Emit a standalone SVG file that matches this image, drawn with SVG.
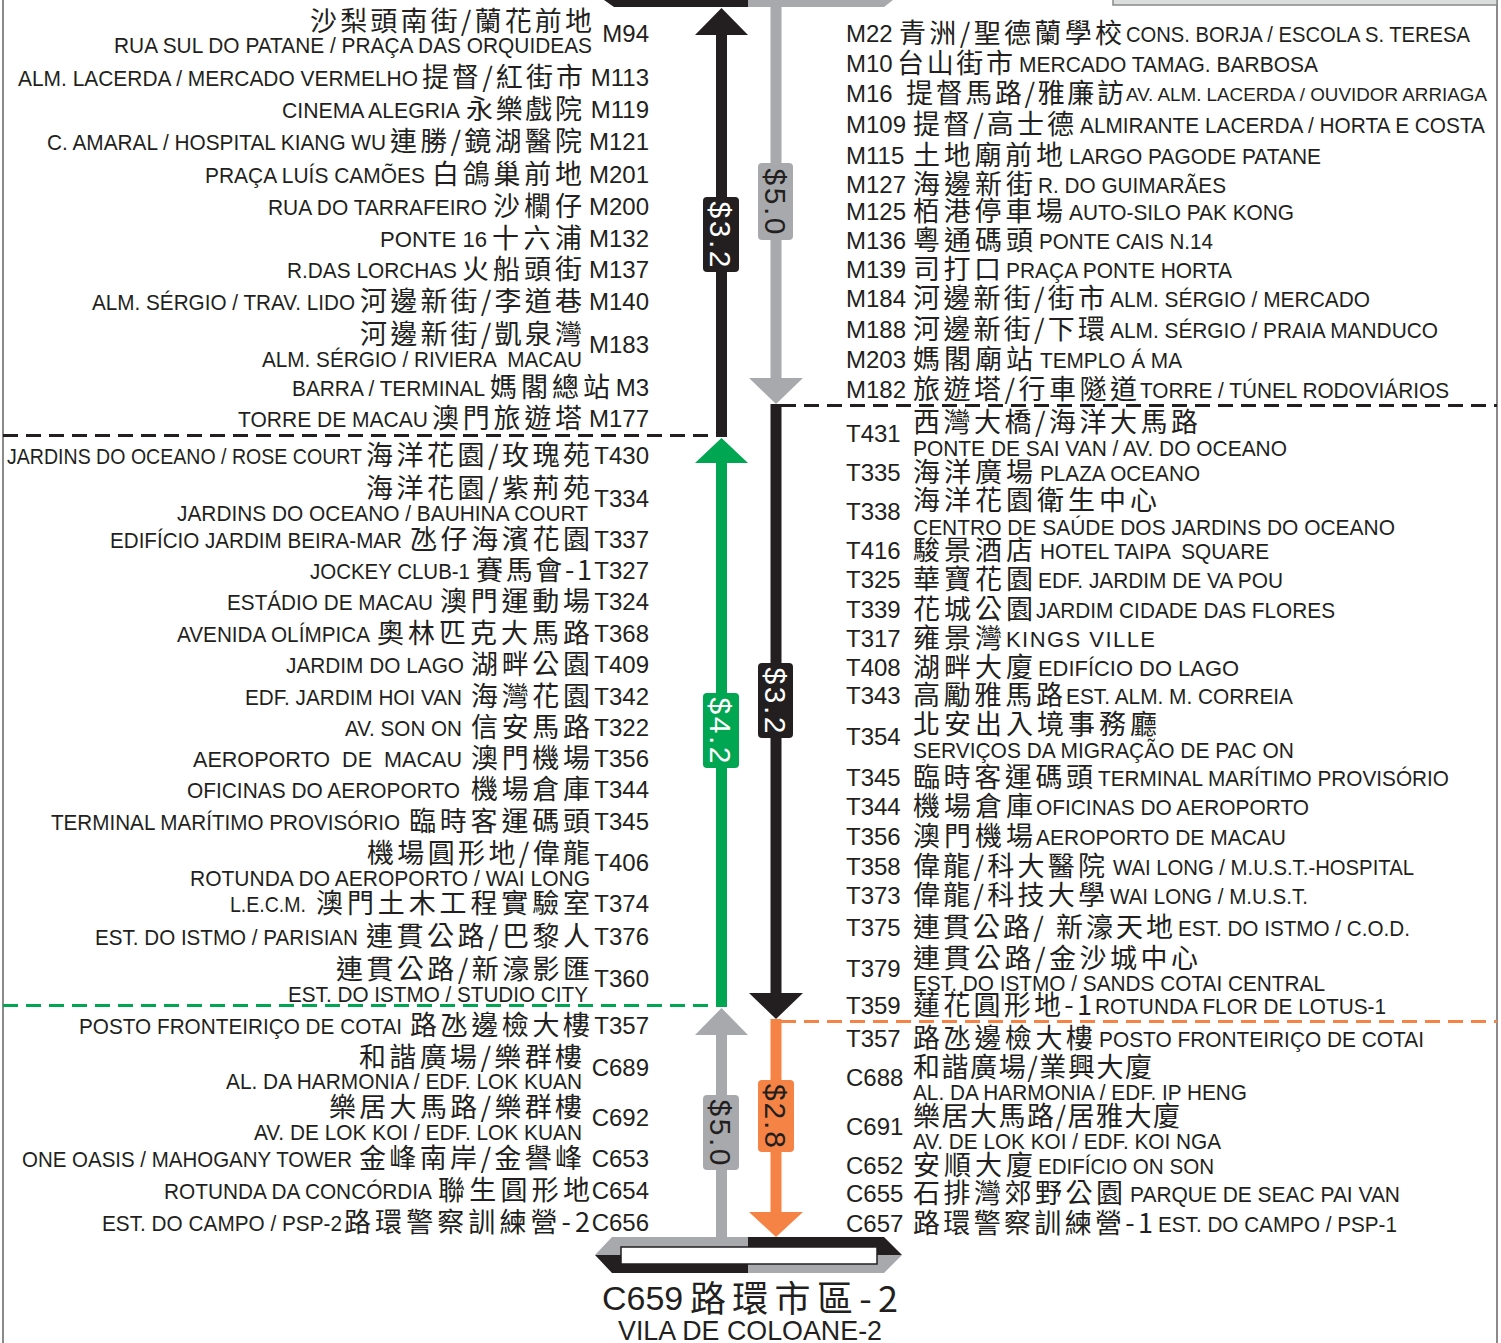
<svg xmlns="http://www.w3.org/2000/svg" width="1501" height="1343" viewBox="0 0 1501 1343">
<style>
.l{font-family:"Liberation Sans",Arial,sans-serif;font-size:22px;fill:#231f20}
.s{font-family:"Liberation Sans",Arial,sans-serif;font-size:19px;fill:#231f20}
.c{font-family:"Noto Sans CJK TC","Noto Sans CJK SC",sans-serif;font-size:27px;fill:#231f20}
.k{font-family:"Liberation Sans",Arial,sans-serif;font-size:24px;fill:#231f20}
.f{font-family:"Liberation Sans",Arial,sans-serif;font-size:30px}
.p{white-space:pre}
.dash{stroke-width:3;stroke-dasharray:15 8;fill:none}
</style>
<rect width="1501" height="1343" fill="#ffffff"/>
<g id="frame">
<line x1="3" y1="0" x2="3" y2="1343" stroke="#8a8a8a" stroke-width="2"/>
<line x1="1497" y1="0" x2="1497" y2="1343" stroke="#8a8a8a" stroke-width="2"/>
<rect x="1113" y="-2" width="384" height="7" fill="#dcdddd" stroke="#8a8a8a" stroke-width="1.5"/>
</g>
<g id="terminal-top">
<polygon points="604,0 614,7 748,7 748,0" fill="#231f20"/>
<polygon points="748,0 748,7 884,7 893,0" fill="#a7a9ac"/>
</g>
<g id="terminal-bottom">
<polygon points="595,1255 612,1237 748,1237 748,1255" fill="#a7a9ac"/>
<polygon points="748,1237 884,1237 902,1255 748,1255" fill="#231f20"/>
<polygon points="595,1255 748,1255 748,1273 612,1273" fill="#231f20"/>
<polygon points="748,1255 902,1255 884,1273 748,1273" fill="#a7a9ac"/>
<rect x="621" y="1247" width="256" height="17" fill="#ffffff" stroke="#231f20" stroke-width="1.5"/>
<text class="k" x="602" y="1310" style="font-size:34px">C659</text>
<text class="c" x="690" y="1312" textLength="208" style="font-size:36px">路環市區-2</text>
<text class="l" x="618" y="1340" textLength="264" lengthAdjust="spacingAndGlyphs" style="font-size:28px">VILA DE COLOANE-2</text>
</g>
<g id="connectors">
<rect x="716" y="33" width="11" height="404" fill="#231f20"/>
<polygon points="721.5,8 695,35 748,35" fill="#231f20"/>
<rect x="716" y="462" width="11" height="545" fill="#00a651"/>
<polygon points="721.5,438 695,463 748,463" fill="#00a651"/>
<rect x="716" y="1034" width="11" height="206" fill="#a7a9ac"/>
<polygon points="721.5,1008 695,1035 748,1035" fill="#a7a9ac"/>
<rect x="770.5" y="5" width="11" height="375" fill="#a7a9ac"/>
<polygon points="749,378 803,378 776,404" fill="#a7a9ac"/>
<rect x="770.5" y="404" width="11" height="590" fill="#231f20"/>
<polygon points="749,993 803,993 776,1019" fill="#231f20"/>
<rect x="770.5" y="1019" width="11" height="195" fill="#f58345"/>
<polygon points="749,1212 803,1212 776,1237" fill="#f58345"/>
<line class="dash" x1="3" y1="435.5" x2="716" y2="435.5" stroke="#231f20"/>
<line class="dash" x1="781" y1="405.5" x2="1497" y2="405.5" stroke="#231f20"/>
<line class="dash" x1="3" y1="1005.5" x2="716" y2="1005.5" stroke="#00a651"/>
<line class="dash" x1="781" y1="1021.5" x2="1497" y2="1021.5" stroke="#f58345"/>
</g>
<g id="fares">
<rect x="758" y="163" width="35" height="77" rx="4" fill="#a7a9ac"/>
<text class="f" transform="translate(775.5,201.5) rotate(90)" text-anchor="middle" dy="0.36em" fill="#231f20" textLength="66">$5.0</text>
<rect x="703" y="197" width="36" height="75" rx="4" fill="#231f20"/>
<text class="f" transform="translate(721,234.5) rotate(90)" text-anchor="middle" dy="0.36em" fill="#ffffff" textLength="66">$3.2</text>
<rect x="758" y="663" width="35" height="75" rx="4" fill="#231f20"/>
<text class="f" transform="translate(775.5,700.5) rotate(90)" text-anchor="middle" dy="0.36em" fill="#ffffff" textLength="66">$3.2</text>
<rect x="703" y="693" width="36" height="75" rx="4" fill="#00a651"/>
<text class="f" transform="translate(721,730.5) rotate(90)" text-anchor="middle" dy="0.36em" fill="#ffffff" textLength="66">$4.2</text>
<rect x="703" y="1095" width="36" height="75" rx="4" fill="#a7a9ac"/>
<text class="f" transform="translate(721,1132.5) rotate(90)" text-anchor="middle" dy="0.36em" fill="#231f20" textLength="66">$5.0</text>
<rect x="758" y="1080" width="36" height="72" rx="4" fill="#f58345"/>
<text class="f" transform="translate(776,1116) rotate(90)" text-anchor="middle" dy="0.36em" fill="#231f20" textLength="64">$2.8</text>
</g>
<g id="left-stops">
<g id="l-m94"><text class="c" x="310" y="31" textLength="282">沙梨頭南街/蘭花前地</text><text class="l" x="114" y="53" textLength="478" lengthAdjust="spacingAndGlyphs">RUA SUL DO PATANE / PRAÇA DAS ORQUIDEAS</text><text class="k" x="649" y="42" text-anchor="end">M94</text></g>
<g id="l-m113"><text class="l" x="18" y="86" textLength="400" lengthAdjust="spacingAndGlyphs">ALM. LACERDA / MERCADO VERMELHO</text><text class="c" x="422" y="87" textLength="161">提督/紅街市</text><text class="k" x="649" y="86" text-anchor="end">M113</text></g>
<g id="l-m119"><text class="l" x="282" y="118" textLength="178" lengthAdjust="spacingAndGlyphs">CINEMA ALEGRIA</text><text class="c" x="466" y="119" textLength="116">永樂戲院</text><text class="k" x="649" y="118" text-anchor="end">M119</text></g>
<g id="l-m121"><text class="l" x="47" y="150" textLength="339" lengthAdjust="spacingAndGlyphs">C. AMARAL / HOSPITAL KIANG WU</text><text class="c" x="390" y="151" textLength="192">連勝/鏡湖醫院</text><text class="k" x="649" y="150" text-anchor="end">M121</text></g>
<g id="l-m201"><text class="l" x="205" y="183" textLength="220" lengthAdjust="spacingAndGlyphs">PRAÇA LUÍS CAMÕES</text><text class="c" x="432" y="184" textLength="150">白鴿巢前地</text><text class="k" x="649" y="183" text-anchor="end">M201</text></g>
<g id="l-m200"><text class="l" x="268" y="215" textLength="219" lengthAdjust="spacingAndGlyphs">RUA DO TARRAFEIRO</text><text class="c" x="493" y="216" textLength="89">沙欄仔</text><text class="k" x="649" y="215" text-anchor="end">M200</text></g>
<g id="l-m132"><text class="l" x="380" y="247" textLength="107" lengthAdjust="spacingAndGlyphs">PONTE 16</text><text class="c" x="492" y="248" textLength="90">十六浦</text><text class="k" x="649" y="247" text-anchor="end">M132</text></g>
<g id="l-m137"><text class="l" x="287" y="278" textLength="170" lengthAdjust="spacingAndGlyphs">R.DAS LORCHAS</text><text class="c" x="462" y="279" textLength="120">火船頭街</text><text class="k" x="649" y="278" text-anchor="end">M137</text></g>
<g id="l-m140"><text class="l" x="92" y="310" textLength="263" lengthAdjust="spacingAndGlyphs">ALM. SÉRGIO / TRAV. LIDO</text><text class="c" x="360" y="311" textLength="222">河邊新街/李道巷</text><text class="k" x="649" y="310" text-anchor="end">M140</text></g>
<g id="l-m183"><text class="c" x="360" y="344" textLength="222">河邊新街/凱泉灣</text><text class="l p" x="262" y="367" textLength="320" lengthAdjust="spacingAndGlyphs">ALM. SÉRGIO / RIVIERA  MACAU</text><text class="k" x="649" y="353" text-anchor="end">M183</text></g>
<g id="l-m3"><text class="l" x="292" y="396" textLength="193" lengthAdjust="spacingAndGlyphs">BARRA / TERMINAL</text><text class="c" x="490" y="397" textLength="120">媽閣總站</text><text class="k" x="649" y="396" text-anchor="end">M3</text></g>
<g id="l-m177"><text class="l" x="238" y="427" textLength="190" lengthAdjust="spacingAndGlyphs">TORRE DE MACAU</text><text class="c" x="432" y="428" textLength="150">澳門旅遊塔</text><text class="k" x="649" y="427" text-anchor="end">M177</text></g>
<g id="l-t430"><text class="l" x="7" y="464" textLength="355" lengthAdjust="spacingAndGlyphs">JARDINS DO OCEANO / ROSE COURT</text><text class="c" x="366" y="465" textLength="224">海洋花園/玫瑰苑</text><text class="k" x="649" y="464" text-anchor="end">T430</text></g>
<g id="l-t334"><text class="c" x="366" y="498" textLength="224">海洋花園/紫荊苑</text><text class="l" x="177" y="521" textLength="411" lengthAdjust="spacingAndGlyphs">JARDINS DO OCEANO / BAUHINA COURT</text><text class="k" x="649" y="507" text-anchor="end">T334</text></g>
<g id="l-t337"><text class="l" x="110" y="548" textLength="292" lengthAdjust="spacingAndGlyphs">EDIFÍCIO JARDIM BEIRA-MAR</text><text class="c" x="410" y="549" textLength="180">氹仔海濱花園</text><text class="k" x="649" y="548" text-anchor="end">T337</text></g>
<g id="l-t327"><text class="l" x="310" y="579" textLength="160" lengthAdjust="spacingAndGlyphs">JOCKEY CLUB-1</text><text class="c" x="476" y="580" textLength="116">賽馬會-1</text><text class="k" x="649" y="579" text-anchor="end">T327</text></g>
<g id="l-t324"><text class="l" x="227" y="610" textLength="206" lengthAdjust="spacingAndGlyphs">ESTÁDIO DE MACAU</text><text class="c" x="440" y="611" textLength="150">澳門運動場</text><text class="k" x="649" y="610" text-anchor="end">T324</text></g>
<g id="l-t368"><text class="l" x="177" y="642" textLength="193" lengthAdjust="spacingAndGlyphs">AVENIDA OLÍMPICA</text><text class="c" x="377" y="643" textLength="213">奧林匹克大馬路</text><text class="k" x="649" y="642" text-anchor="end">T368</text></g>
<g id="l-t409"><text class="l" x="286" y="673" textLength="178" lengthAdjust="spacingAndGlyphs">JARDIM DO LAGO</text><text class="c" x="471" y="674" textLength="119">湖畔公園</text><text class="k" x="649" y="673" text-anchor="end">T409</text></g>
<g id="l-t342"><text class="l" x="245" y="705" textLength="217" lengthAdjust="spacingAndGlyphs">EDF. JARDIM HOI VAN</text><text class="c" x="471" y="706" textLength="119">海灣花園</text><text class="k" x="649" y="705" text-anchor="end">T342</text></g>
<g id="l-t322"><text class="l" x="345" y="736" textLength="117" lengthAdjust="spacingAndGlyphs">AV. SON ON</text><text class="c" x="471" y="737" textLength="119">信安馬路</text><text class="k" x="649" y="736" text-anchor="end">T322</text></g>
<g id="l-t356"><text class="l p" x="193" y="767" textLength="269" lengthAdjust="spacingAndGlyphs">AEROPORTO  DE  MACAU</text><text class="c" x="471" y="768" textLength="119">澳門機場</text><text class="k" x="649" y="767" text-anchor="end">T356</text></g>
<g id="l-t344"><text class="l" x="187" y="798" textLength="273" lengthAdjust="spacingAndGlyphs">OFICINAS DO AEROPORTO</text><text class="c" x="471" y="799" textLength="119">機場倉庫</text><text class="k" x="649" y="798" text-anchor="end">T344</text></g>
<g id="l-t345"><text class="l" x="51" y="830" textLength="349" lengthAdjust="spacingAndGlyphs">TERMINAL MARÍTIMO PROVISÓRIO</text><text class="c" x="409" y="831" textLength="181">臨時客運碼頭</text><text class="k" x="649" y="830" text-anchor="end">T345</text></g>
<g id="l-t406"><text class="c" x="367" y="863" textLength="223">機場圓形地/偉龍</text><text class="l" x="190" y="886" textLength="400" lengthAdjust="spacingAndGlyphs">ROTUNDA DO AEROPORTO / WAI LONG</text><text class="k" x="649" y="871" text-anchor="end">T406</text></g>
<g id="l-t374"><text class="l" x="230" y="912" textLength="76" lengthAdjust="spacingAndGlyphs">L.E.C.M.</text><text class="c" x="316" y="913" textLength="274">澳門土木工程實驗室</text><text class="k" x="649" y="912" text-anchor="end">T374</text></g>
<g id="l-t376"><text class="l" x="95" y="945" textLength="263" lengthAdjust="spacingAndGlyphs">EST. DO ISTMO / PARISIAN</text><text class="c" x="366" y="946" textLength="224">連貫公路/巴黎人</text><text class="k" x="649" y="945" text-anchor="end">T376</text></g>
<g id="l-t360"><text class="c" x="336" y="979" textLength="254">連貫公路/新濠影匯</text><text class="l" x="288" y="1002" textLength="300" lengthAdjust="spacingAndGlyphs">EST. DO ISTMO / STUDIO CITY</text><text class="k" x="649" y="987" text-anchor="end">T360</text></g>
<g id="l-t357"><text class="l" x="79" y="1034" textLength="323" lengthAdjust="spacingAndGlyphs">POSTO FRONTEIRIÇO DE COTAI</text><text class="c" x="410" y="1035" textLength="180">路氹邊檢大樓</text><text class="k" x="649" y="1034" text-anchor="end">T357</text></g>
<g id="l-c689"><text class="c" x="359" y="1067" textLength="223">和諧廣場/樂群樓</text><text class="l" x="226" y="1089" textLength="356" lengthAdjust="spacingAndGlyphs">AL. DA HARMONIA / EDF. LOK KUAN</text><text class="k" x="649" y="1076" text-anchor="end">C689</text></g>
<g id="l-c692"><text class="c" x="329" y="1117" textLength="253">樂居大馬路/樂群樓</text><text class="l" x="254" y="1140" textLength="328" lengthAdjust="spacingAndGlyphs">AV. DE LOK KOI / EDF. LOK KUAN</text><text class="k" x="649" y="1126" text-anchor="end">C692</text></g>
<g id="l-c653"><text class="l" x="22" y="1167" textLength="330" lengthAdjust="spacingAndGlyphs">ONE OASIS / MAHOGANY TOWER</text><text class="c" x="359" y="1168" textLength="223">金峰南岸/金譽峰</text><text class="k" x="649" y="1167" text-anchor="end">C653</text></g>
<g id="l-c654"><text class="l" x="164" y="1199" textLength="268" lengthAdjust="spacingAndGlyphs">ROTUNDA DA CONCÓRDIA</text><text class="c" x="438" y="1200" textLength="152">聯生圓形地</text><text class="k" x="649" y="1199" text-anchor="end">C654</text></g>
<g id="l-c656"><text class="l" x="102" y="1231" textLength="240" lengthAdjust="spacingAndGlyphs">EST. DO CAMPO / PSP-2</text><text class="c" x="344" y="1232" textLength="246">路環警察訓練營-2</text><text class="k" x="649" y="1231" text-anchor="end">C656</text></g>
</g>
<g id="right-stops">
<g id="r-m22"><text class="k" x="846" y="42">M22</text><text class="c" x="899" y="43" textLength="223">青洲/聖德蘭學校</text><text class="l" x="1126" y="42" textLength="344" lengthAdjust="spacingAndGlyphs">CONS. BORJA / ESCOLA S. TERESA</text></g>
<g id="r-m10"><text class="k" x="846" y="72">M10</text><text class="c" x="897" y="73" textLength="116">台山街市</text><text class="l" x="1019" y="72" textLength="299" lengthAdjust="spacingAndGlyphs">MERCADO TAMAG. BARBOSA</text></g>
<g id="r-m16"><text class="k" x="846" y="102">M16</text><text class="c" x="906" y="103" textLength="218">提督馬路/雅廉訪</text><text class="s" x="1126" y="101" textLength="361" lengthAdjust="spacingAndGlyphs">AV. ALM. LACERDA / OUVIDOR ARRIAGA</text></g>
<g id="r-m109"><text class="k" x="846" y="133">M109</text><text class="c" x="913" y="134" textLength="161">提督/高士德</text><text class="l" x="1080" y="133" textLength="405" lengthAdjust="spacingAndGlyphs">ALMIRANTE LACERDA / HORTA E COSTA</text></g>
<g id="r-m115"><text class="k" x="846" y="164">M115</text><text class="c" x="913" y="165" textLength="150">土地廟前地</text><text class="l" x="1069" y="164" textLength="252" lengthAdjust="spacingAndGlyphs">LARGO PAGODE PATANE</text></g>
<g id="r-m127"><text class="k" x="846" y="193">M127</text><text class="c" x="913" y="194" textLength="120">海邊新街</text><text class="l" x="1038" y="193" textLength="188" lengthAdjust="spacingAndGlyphs">R. DO GUIMARÃES</text></g>
<g id="r-m125"><text class="k" x="846" y="220">M125</text><text class="c" x="913" y="221" textLength="150">栢港停車場</text><text class="l" x="1069" y="220" textLength="225" lengthAdjust="spacingAndGlyphs">AUTO-SILO PAK KONG</text></g>
<g id="r-m136"><text class="k" x="846" y="249">M136</text><text class="c" x="913" y="250" textLength="120">粵通碼頭</text><text class="l" x="1039" y="249" textLength="174" lengthAdjust="spacingAndGlyphs">PONTE CAIS N.14</text></g>
<g id="r-m139"><text class="k" x="846" y="278">M139</text><text class="c" x="913" y="279" textLength="88">司打口</text><text class="l" x="1006" y="278" textLength="226" lengthAdjust="spacingAndGlyphs">PRAÇA PONTE HORTA</text></g>
<g id="r-m184"><text class="k" x="846" y="307">M184</text><text class="c" x="913" y="308" textLength="192">河邊新街/街市</text><text class="l" x="1110" y="307" textLength="260" lengthAdjust="spacingAndGlyphs">ALM. SÉRGIO / MERCADO</text></g>
<g id="r-m188"><text class="k" x="846" y="338">M188</text><text class="c" x="913" y="339" textLength="192">河邊新街/下環</text><text class="l" x="1110" y="338" textLength="328" lengthAdjust="spacingAndGlyphs">ALM. SÉRGIO / PRAIA MANDUCO</text></g>
<g id="r-m203"><text class="k" x="846" y="368">M203</text><text class="c" x="913" y="369" textLength="120">媽閣廟站</text><text class="l" x="1040" y="368" textLength="142" lengthAdjust="spacingAndGlyphs">TEMPLO Á MA</text></g>
<g id="r-m182"><text class="k" x="846" y="398">M182</text><text class="c" x="913" y="399" textLength="224">旅遊塔/行車隧道</text><text class="l" x="1140" y="398" textLength="309" lengthAdjust="spacingAndGlyphs">TORRE / TÚNEL RODOVIÁRIOS</text></g>
<g id="r-t431"><text class="k" x="846" y="442">T431</text><text class="c" x="913" y="432" textLength="285">西灣大橋/海洋大馬路</text><text class="l" x="913" y="456" textLength="374" lengthAdjust="spacingAndGlyphs">PONTE DE SAI VAN / AV. DO OCEANO</text></g>
<g id="r-t335"><text class="k" x="846" y="481">T335</text><text class="c" x="913" y="482" textLength="120">海洋廣場</text><text class="l" x="1040" y="481" textLength="160" lengthAdjust="spacingAndGlyphs">PLAZA OCEANO</text></g>
<g id="r-t338"><text class="k" x="846" y="520">T338</text><text class="c" x="913" y="510" textLength="244">海洋花園衛生中心</text><text class="l" x="913" y="535" textLength="482" lengthAdjust="spacingAndGlyphs">CENTRO DE SAÚDE DOS JARDINS DO OCEANO</text></g>
<g id="r-t416"><text class="k" x="846" y="559">T416</text><text class="c" x="913" y="560" textLength="120">駿景酒店</text><text class="l p" x="1040" y="559" textLength="229" lengthAdjust="spacingAndGlyphs">HOTEL TAIPA  SQUARE</text></g>
<g id="r-t325"><text class="k" x="846" y="588">T325</text><text class="c" x="913" y="589" textLength="120">華寶花園</text><text class="l" x="1038" y="588" textLength="245" lengthAdjust="spacingAndGlyphs">EDF. JARDIM DE VA POU</text></g>
<g id="r-t339"><text class="k" x="846" y="618">T339</text><text class="c" x="913" y="619" textLength="120">花城公園</text><text class="l" x="1036" y="618" textLength="299" lengthAdjust="spacingAndGlyphs">JARDIM CIDADE DAS FLORES</text></g>
<g id="r-t317"><text class="k" x="846" y="647">T317</text><text class="c" x="913" y="648" textLength="89">雍景灣</text><text class="l" x="1006" y="647" textLength="149">KINGS VILLE</text></g>
<g id="r-t408"><text class="k" x="846" y="676">T408</text><text class="c" x="913" y="677" textLength="120">湖畔大廈</text><text class="l" x="1038" y="676" textLength="201" lengthAdjust="spacingAndGlyphs">EDIFÍCIO DO LAGO</text></g>
<g id="r-t343"><text class="k" x="846" y="704">T343</text><text class="c" x="913" y="705" textLength="150">高勵雅馬路</text><text class="l" x="1066" y="704" textLength="227" lengthAdjust="spacingAndGlyphs">EST. ALM. M. CORREIA</text></g>
<g id="r-t354"><text class="k" x="846" y="745">T354</text><text class="c" x="913" y="734" textLength="244">北安出入境事務廳</text><text class="l" x="913" y="758" textLength="381" lengthAdjust="spacingAndGlyphs">SERVIÇOS DA MIGRAÇÃO DE PAC ON</text></g>
<g id="r-t345"><text class="k" x="846" y="786">T345</text><text class="c" x="913" y="787" textLength="180">臨時客運碼頭</text><text class="l" x="1098" y="786" textLength="351" lengthAdjust="spacingAndGlyphs">TERMINAL MARÍTIMO PROVISÓRIO</text></g>
<g id="r-t344"><text class="k" x="846" y="815">T344</text><text class="c" x="913" y="816" textLength="120">機場倉庫</text><text class="l" x="1036" y="815" textLength="273" lengthAdjust="spacingAndGlyphs">OFICINAS DO AEROPORTO</text></g>
<g id="r-t356"><text class="k" x="846" y="845">T356</text><text class="c" x="913" y="846" textLength="120">澳門機場</text><text class="l" x="1036" y="845" textLength="250" lengthAdjust="spacingAndGlyphs">AEROPORTO DE MACAU</text></g>
<g id="r-t358"><text class="k" x="846" y="875">T358</text><text class="c" x="913" y="876" textLength="192">偉龍/科大醫院</text><text class="l" x="1113" y="875" textLength="301" lengthAdjust="spacingAndGlyphs">WAI LONG / M.U.S.T.-HOSPITAL</text></g>
<g id="r-t373"><text class="k" x="846" y="904">T373</text><text class="c" x="913" y="905" textLength="192">偉龍/科技大學</text><text class="l" x="1110" y="904" textLength="198" lengthAdjust="spacingAndGlyphs">WAI LONG / M.U.S.T.</text></g>
<g id="r-t375"><text class="k" x="846" y="936">T375</text><text class="c" x="913" y="937" textLength="260">連貫公路/ 新濠天地</text><text class="l" x="1178" y="936" textLength="232" lengthAdjust="spacingAndGlyphs">EST. DO ISTMO / C.O.D.</text></g>
<g id="r-t379"><text class="k" x="846" y="977">T379</text><text class="c" x="913" y="968" textLength="285">連貫公路/金沙城中心</text><text class="l" x="913" y="991" textLength="412" lengthAdjust="spacingAndGlyphs">EST. DO ISTMO / SANDS COTAI CENTRAL</text></g>
<g id="r-t359"><text class="k" x="846" y="1014">T359</text><text class="c" x="913" y="1015" textLength="179">蓮花圓形地-1</text><text class="l" x="1095" y="1014" textLength="291" lengthAdjust="spacingAndGlyphs">ROTUNDA FLOR DE LOTUS-1</text></g>
<g id="r-t357"><text class="k" x="846" y="1047">T357</text><text class="c" x="913" y="1048" textLength="180">路氹邊檢大樓</text><text class="l" x="1099" y="1047" textLength="325" lengthAdjust="spacingAndGlyphs">POSTO FRONTEIRIÇO DE COTAI</text></g>
<g id="r-c688"><text class="k" x="846" y="1086">C688</text><text class="c" x="913" y="1077" textLength="239">和諧廣場/業興大廈</text><text class="l" x="913" y="1100" textLength="334" lengthAdjust="spacingAndGlyphs">AL. DA HARMONIA / EDF. IP HENG</text></g>
<g id="r-c691"><text class="k" x="846" y="1135">C691</text><text class="c" x="913" y="1126" textLength="267">樂居大馬路/居雅大廈</text><text class="l" x="913" y="1149" textLength="308" lengthAdjust="spacingAndGlyphs">AV. DE LOK KOI / EDF. KOI NGA</text></g>
<g id="r-c652"><text class="k" x="846" y="1174">C652</text><text class="c" x="913" y="1175" textLength="120">安順大廈</text><text class="l" x="1038" y="1174" textLength="176" lengthAdjust="spacingAndGlyphs">EDIFÍCIO ON SON</text></g>
<g id="r-c655"><text class="k" x="846" y="1202">C655</text><text class="c" x="913" y="1203" textLength="210">石排灣郊野公園</text><text class="l" x="1130" y="1202" textLength="270" lengthAdjust="spacingAndGlyphs">PARQUE DE SEAC PAI VAN</text></g>
<g id="r-c657"><text class="k" x="846" y="1232">C657</text><text class="c" x="913" y="1233" textLength="240">路環警察訓練營-1</text><text class="l" x="1158" y="1232" textLength="239" lengthAdjust="spacingAndGlyphs">EST. DO CAMPO / PSP-1</text></g>
</g>
</svg>
